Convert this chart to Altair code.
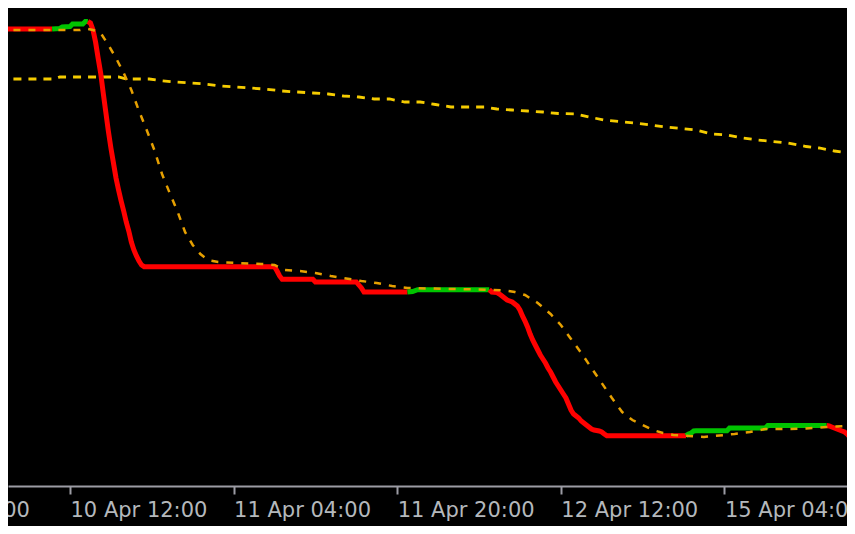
import altair as alt
import pandas as pd

# ---- axis ticks (M15 bar index, 0 = 10 Apr 12:00) ----
TICK_IDX = [-64, 0, 64, 128, 192, 256]
TICK_LABELS = ["9 Apr 20:00", "10 Apr 12:00", "11 Apr 04:00", "11 Apr 20:00",
               "12 Apr 12:00", "15 Apr 04:00"]

# ---- fast moving average (thick, coloured by trend) ----
fast_idx = [-28, -7, -4, -3, 0, 1, 5, 6, 7,
            8, 9, 10, 11, 12, 13, 14, 15, 16, 17, 18, 19, 20, 21, 22, 23, 24, 25, 26, 27, 28, 29,
            80, 81, 82, 83, 95, 96, 112, 113, 114, 115, 132, 134, 136, 164, 165,
            167, 168, 169, 170, 171, 172, 173, 174, 175, 176, 177, 178, 179, 180, 181, 182, 183,
            184, 185, 186, 187, 188, 189, 190, 191, 192, 193, 194, 195, 196, 197, 198, 199, 200,
            201, 202, 203, 204, 205, 206, 207, 208, 209, 210,
            241, 242, 243, 244, 245, 257, 258, 272, 273, 296,
            297, 298, 299, 300, 301, 302, 303, 304, 305, 306, 307, 308]
fast_val = [457, 457, 457.5, 459, 459.5, 462, 462, 464.5, 464.5,
            463, 456, 444, 428, 413, 393, 374, 355, 338, 323, 308, 296, 285, 275, 264, 255, 244,
            236, 230, 225, 221, 219.3,
            219.3, 215, 210, 206.7, 206.7, 204, 204, 201, 198, 194, 194, 194.5, 196.3, 196.3, 194,
            193.5, 192, 190, 188, 186, 185, 184, 182, 180, 176, 170, 165, 159, 152, 146, 141, 136,
            131, 127, 123, 118, 114, 109, 104, 100, 96, 92, 88, 82, 76, 72, 70, 68, 65,
            63, 61, 59, 57, 56, 55.5, 55, 54, 52, 50.3,
            50.3, 52, 53, 55, 55.3, 55.3, 58, 58, 60.5, 60.5,
            60, 59, 58, 57, 56, 55, 54, 52, 49, 46, 42, 38]
trend_start = [-28, -7, 7, 132, 164, 241, 296]
trend_dir = ["down", "up", "down", "up", "down", "up", "down"]

# ---- medium moving average (orange, dotted) ----
mid_idx = [-28, 4, 6, 9, 11, 12, 15, 18, 21, 24, 27, 30, 33, 36, 39, 42, 45, 48, 51, 54,
           58, 65, 75, 80, 84, 90, 96, 102, 108, 114, 120, 126, 132,
           140, 150, 160, 170, 174, 178, 183, 188, 192, 196, 200, 204, 208, 212, 216, 220, 224,
           228, 232, 236, 242, 248, 254, 260, 266, 272, 280, 288, 296, 304, 310]
mid_val = [456, 456, 457.5, 456, 454, 453, 441, 428, 413, 396, 375, 356, 336, 312, 293, 275,
           254, 241, 232, 226,
           224, 223, 222, 221, 216, 215, 213, 210, 207.5, 205, 203, 200, 198,
           197.5, 197, 196.5, 195.5, 194, 191, 183, 172, 161, 147, 133, 118, 103, 88, 74, 66, 61,
           56, 53, 51, 50, 49, 50.5, 52, 54, 57, 57, 57.5, 59, 60, 61]

# ---- slow moving average (gold, dashed) ----
slow_idx = [-28, -6, -4, 19, 22, 31, 35, 41, 47, 53, 59, 65, 70, 76, 83, 89, 95, 101, 107, 113,
            119, 125, 131, 137, 143, 149, 162, 167, 173, 179, 185, 191, 198, 203, 209, 215, 221,
            227, 233, 239, 245, 251, 257, 263, 269, 275, 281, 288, 293, 299, 305, 310]
slow_val = [407, 407, 409, 409, 407, 407, 405.5, 404, 403, 402, 400, 399, 398, 397, 395, 394,
            393, 392, 390, 389, 387, 387, 384, 384, 381.5, 379, 379, 377, 376, 375, 374, 372.5,
            372, 369, 366, 364.5, 363, 361, 359, 357.5, 356, 352, 351, 348, 346, 344.5, 343,
            339.5, 338, 335, 333, 331.5]

RED, GREEN = "#FF0000", "#00C400"
ORANGE, GOLD = "#E6A000", "#F5CC00"
AXIS_COLOR, LABEL_COLOR = "#9C9CA4", "#B4B8BC"
FONT = "DejaVu Sans"

# plot area: page x 8..847, page y 8..486
W, H = 839, 478
X_MIN, X_MAX = -24.254, 303.96

# ---- build tables ----
rows = []
for k, start in enumerate(trend_start):
    end = trend_start[k + 1] if k + 1 < len(trend_start) else 10 ** 9
    for i, v in zip(fast_idx, fast_val, strict=True):
        if start <= i <= end:
            rows.append({"idx": i, "v": v, "seg": k, "dir": trend_dir[k]})
fast_df = pd.DataFrame(rows)
mid_df = pd.DataFrame({"idx": mid_idx, "v": mid_val})
slow_df = pd.DataFrame({"idx": slow_idx, "v": slow_val})
edge_df = pd.DataFrame({"idx": [TICK_IDX[0]], "label": [TICK_LABELS[0]]})

label_expr = "''"
for i, lab in reversed(list(zip(TICK_IDX, TICK_LABELS))):
    label_expr = f"datum.value == {i} ? '{lab}' : " + label_expr

x_axis = alt.Axis(values=TICK_IDX, labelExpr=label_expr, title=None, grid=False,
                  domainColor=AXIS_COLOR, domainWidth=2, tickColor=AXIS_COLOR, tickWidth=2,
                  tickSize=8, labelColor=LABEL_COLOR, labelFont=FONT, labelFontSize=21,
                  labelAlign="left", labelBaseline="alphabetic", labelPadding=22.5,
                  labelOverlap=False, labelFlush=False, labelBound=False)
X = alt.X("idx:Q", scale=alt.Scale(domain=[X_MIN, X_MAX], nice=False, zero=False), axis=x_axis)
Y = alt.Y("v:Q", scale=alt.Scale(domain=[0, H], nice=False, zero=False), axis=None)

slow = alt.Chart(slow_df).mark_line(color=GOLD, strokeWidth=2.8, strokeDash=[8, 7],
                                    clip=True).encode(x=X, y=Y)
fast = alt.Chart(fast_df).mark_line(strokeWidth=5, clip=True, strokeCap="butt").encode(
    x=X, y=Y,
    color=alt.Color("dir:N", scale=alt.Scale(domain=["up", "down"], range=[GREEN, RED]),
                    legend=None),
    detail="seg:N")
mid = alt.Chart(mid_df).mark_line(color=ORANGE, strokeWidth=2.5, strokeDash=[7, 8],
                                  clip=True).encode(x=X, y=Y)
edge = alt.Chart(edge_df).mark_text(align="left", baseline="alphabetic", font=FONT,
                                    fontSize=21, color=LABEL_COLOR).encode(
    x=X, y=alt.value(H + 30.5), text="label:N")

chart = alt.layer(slow, fast, mid, edge).properties(
    width=W, height=H,
    autosize=alt.AutoSizeParams(type="none"),
    padding={"left": 0, "top": 0, "right": 0, "bottom": 40},
    background="#000000",
).configure_view(stroke=None)

chart.save("out.html", embed_options={"renderer": "svg", "actions": False})
